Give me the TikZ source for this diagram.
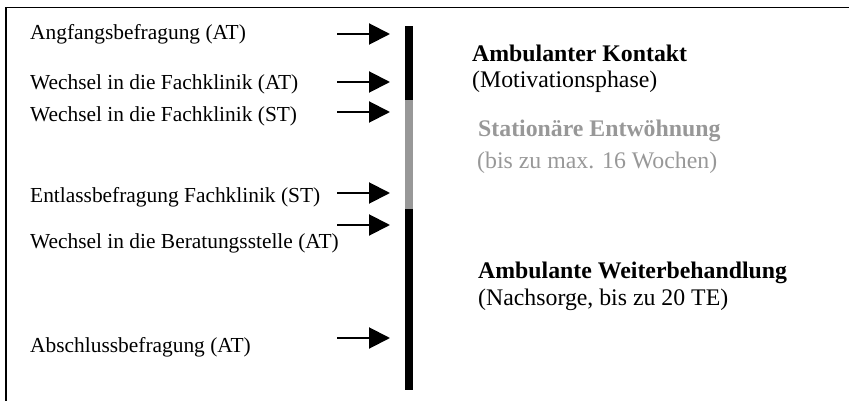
\documentclass[tikz,border=0pt]{standalone}
\usepackage{fontspec}
\setmainfont{Liberation Serif}
\usetikzlibrary{arrows.meta}
\definecolor{phasegray}{HTML}{989898}
\begin{document}
\begin{tikzpicture}[x=1pt,y=-1pt,
  survey/.style={anchor=base west,inner sep=0pt,font=\fontsize{21.4}{25}\selectfont},
  phasetitle/.style={anchor=base west,inner sep=0pt,font=\fontsize{23.8}{28}\selectfont\bfseries},
  phasenote/.style={anchor=base west,inner sep=0pt,font=\fontsize{23.8}{28}\selectfont},
  pointer/.style={line width=2pt,-{Triangle[length=21pt,width=21pt]}},
  frameline/.style={line width=1.6pt}]
\useasboundingbox (0,0) rectangle (849,401);
% open frame (top and left edges)
\draw[frameline] (6,401) -- (6,7.5) -- (849,7.5);
% time bar
\fill[black] (405,26) rectangle (413,100);
\fill[phasegray] (405,100) rectangle (413,209);
\fill[black] (405,209) rectangle (413,390);
% survey points
\node[survey] (s1) at (30,40) {Angfangsbefragung (AT)};
\node[survey] (s2) at (30,90) {Wechsel in die Fachklinik (AT)};
\node[survey] (s3) at (30,122) {Wechsel in die Fachklinik (ST)};
\node[survey] (s4) at (30,203) {Entlassbefragung Fachklinik (ST)};
\node[survey] (s5) at (30,248) {Wechsel in die Beratungsstelle (AT)};
\node[survey] (s6) at (30,352) {Abschlussbefragung (AT)};
% arrows towards the bar
\foreach \i/\y in {1/34,2/82,3/112,4/193,5/225,6/338}{
  \coordinate (a\i) at (337,\y);
  \coordinate (b\i) at (390,\y);
  \draw[pointer] (a\i) -- (b\i);
}
% phase descriptions
\node[phasetitle] (p1) at (472,62) {Ambulanter Kontakt};
\node[phasenote] (p1n) at (472,88) {(Motivationsphase)};
\node[phasetitle,text=phasegray] (p2) at (478,137) {Stationäre Entwöhnung};
\node[phasenote,text=phasegray] (p2n) at (477,168) {(bis zu max. 16 Wochen)};
\node[phasetitle] (p3) at (478,278) {Ambulante Weiterbehandlung};
\node[phasenote] (p3n) at (478,305) {(Nachsorge, bis zu 20 TE)};
\end{tikzpicture}
\end{document}
